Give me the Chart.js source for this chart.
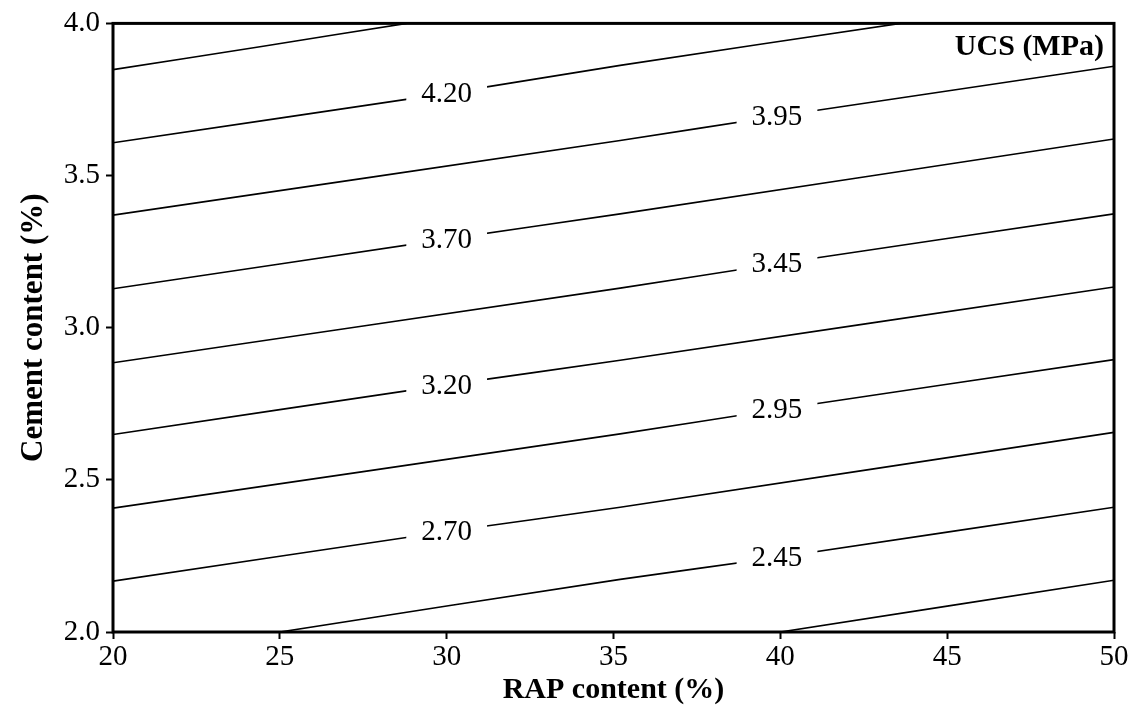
<!DOCTYPE html>
<html>
<head>
<meta charset="utf-8">
<script src="https://cdn.jsdelivr.net/npm/chart.js@4.4.1/dist/chart.umd.min.js"></script>
<style>
  body { margin: 0; background: #fff; }
  canvas { display: block; }
</style>
</head>
<body>
<canvas id="lienzo" width="1138" height="718"></canvas>
<script>
'use strict';

// contour lines of UCS (MPa): x = RAP content (%), y = cement content (%)
const linea445 = [{x: 20, y: 3.848}, {x: 24.5, y: 3.925}, {x: 28.8, y: 4.0}];
const linea420 = [{x: 20, y: 3.608}, {x: 30, y: 3.770}, {x: 35.2, y: 3.862}, {x: 43.6, y: 4.0}];
const linea395 = [{x: 20, y: 3.370}, {x: 35.2, y: 3.615}, {x: 39.9, y: 3.695}, {x: 50, y: 3.859}];
const linea370 = [{x: 20, y: 3.128}, {x: 30, y: 3.291}, {x: 35.2, y: 3.374}, {x: 50, y: 3.620}];
const linea345 = [{x: 20, y: 2.885}, {x: 35.2, y: 3.130}, {x: 39.9, y: 3.210}, {x: 50, y: 3.374}];
const linea320 = [{x: 20, y: 2.649}, {x: 30, y: 2.812}, {x: 35.2, y: 2.893}, {x: 50, y: 3.134}];
const linea295 = [{x: 20, y: 2.407}, {x: 35.2, y: 2.651}, {x: 39.9, y: 2.731}, {x: 50, y: 2.895}];
const linea270 = [{x: 20, y: 2.167}, {x: 30, y: 2.330}, {x: 35.2, y: 2.410}, {x: 50, y: 2.656}];
const linea245 = [{x: 25, y: 2.0}, {x: 35.2, y: 2.173}, {x: 39.9, y: 2.245}, {x: 50, y: 2.410}];
const linea220 = [{x: 40, y: 2.0}, {x: 50, y: 2.170}];

// contour labels (text, position in data units)
const etiquetas = ['4.20', '3.95', '3.70', '3.45', '3.20', '2.95', '2.70', '2.45'];
const etiquetasX = [30, 39.9, 30, 39.9, 30, 39.9, 30, 39.9];
const etiquetasY = [3.770, 3.695, 3.291, 3.210, 2.812, 2.731, 2.330, 2.245];

const ticksX = [20, 25, 30, 35, 40, 45, 50];
const ticksY = [2.0, 2.5, 3.0, 3.5, 4.0];

const FUENTE = '"Liberation Serif", "Times New Roman", serif';

const lineas = [linea445, linea420, linea395, linea370, linea345,
                linea320, linea295, linea270, linea245, linea220];

const pluginEtiquetas = {
    id: 'etiquetas',
    afterDatasetsDraw(chart) {
        const ctx = chart.ctx;
        const sx = chart.scales.x;
        const sy = chart.scales.y;
        const area = chart.chartArea;
        ctx.save();
        ctx.font = '29px ' + FUENTE;
        ctx.textAlign = 'center';
        ctx.textBaseline = 'middle';
        etiquetas.forEach((txt, i) => {
            const px = sx.getPixelForValue(etiquetasX[i]);
            const py = sy.getPixelForValue(etiquetasY[i]);
            const w = ctx.measureText(txt).width;
            ctx.fillStyle = '#fff';
            ctx.fillRect(px - w / 2 - 15, py - 14, w + 30, 28);
            ctx.fillStyle = '#000';
            ctx.fillText(txt, px, py + 1);
        });

        // UCS (MPa) caption
        ctx.font = 'bold 30px ' + FUENTE;
        ctx.textAlign = 'right';
        ctx.fillText('UCS (MPa)', area.right - 10, area.top + 24);

        // frame
        ctx.strokeStyle = '#000';
        ctx.lineWidth = 3;
        ctx.strokeRect(area.left, area.top, area.right - area.left, area.bottom - area.top);
        ctx.restore();
    }
};

const myChart = new Chart(document.getElementById('lienzo'), {
    type: 'scatter',
    data: {
        datasets: lineas.map(l => ({
            data: l,
            showLine: true,
            borderColor: '#000',
            borderWidth: 1.6,
            pointRadius: 0,
            tension: 0.2,
            fill: false
        }))
    },
    options: {
        responsive: false,
        animation: false,
        layout: { padding: { left: 0, right: 24, top: 22, bottom: 0 } },
        plugins: {
            legend: { display: false },
            tooltip: { enabled: false }
        },
        scales: {
            x: {
                type: 'linear',
                min: 20,
                max: 50,
                afterBuildTicks: s => { s.ticks = ticksX.map(v => ({value: v})); },
                afterFit: s => { s.height = 86; },
                border: { display: false },
                grid: { drawOnChartArea: false, drawTicks: true, tickLength: 7, tickWidth: 2, tickColor: '#000' },
                ticks: { color: '#000', padding: 1, maxRotation: 0, font: { family: FUENTE, size: 29 } },
                title: {
                    display: true,
                    text: 'RAP content (%)',
                    color: '#000',
                    font: { family: FUENTE, size: 30, weight: 'bold' },
                    padding: { top: 0, bottom: 10 }
                }
            },
            y: {
                type: 'linear',
                min: 2,
                max: 4,
                afterBuildTicks: s => { s.ticks = ticksY.map(v => ({value: v})); },
                afterFit: s => { s.width = 113; },
                border: { display: false },
                grid: { drawOnChartArea: false, drawTicks: true, tickLength: 7, tickWidth: 2, tickColor: '#000' },
                ticks: {
                    color: '#000',
                    padding: 6,
                    font: { family: FUENTE, size: 29 },
                    callback: v => Number(v).toFixed(1)
                },
                title: {
                    display: true,
                    text: 'Cement content (%)',
                    color: '#000',
                    font: { family: FUENTE, size: 31, weight: 'bold' },
                    padding: { top: 15, bottom: 0 }
                }
            }
        }
    },
    plugins: [pluginEtiquetas]
});
</script>
</body>
</html>
